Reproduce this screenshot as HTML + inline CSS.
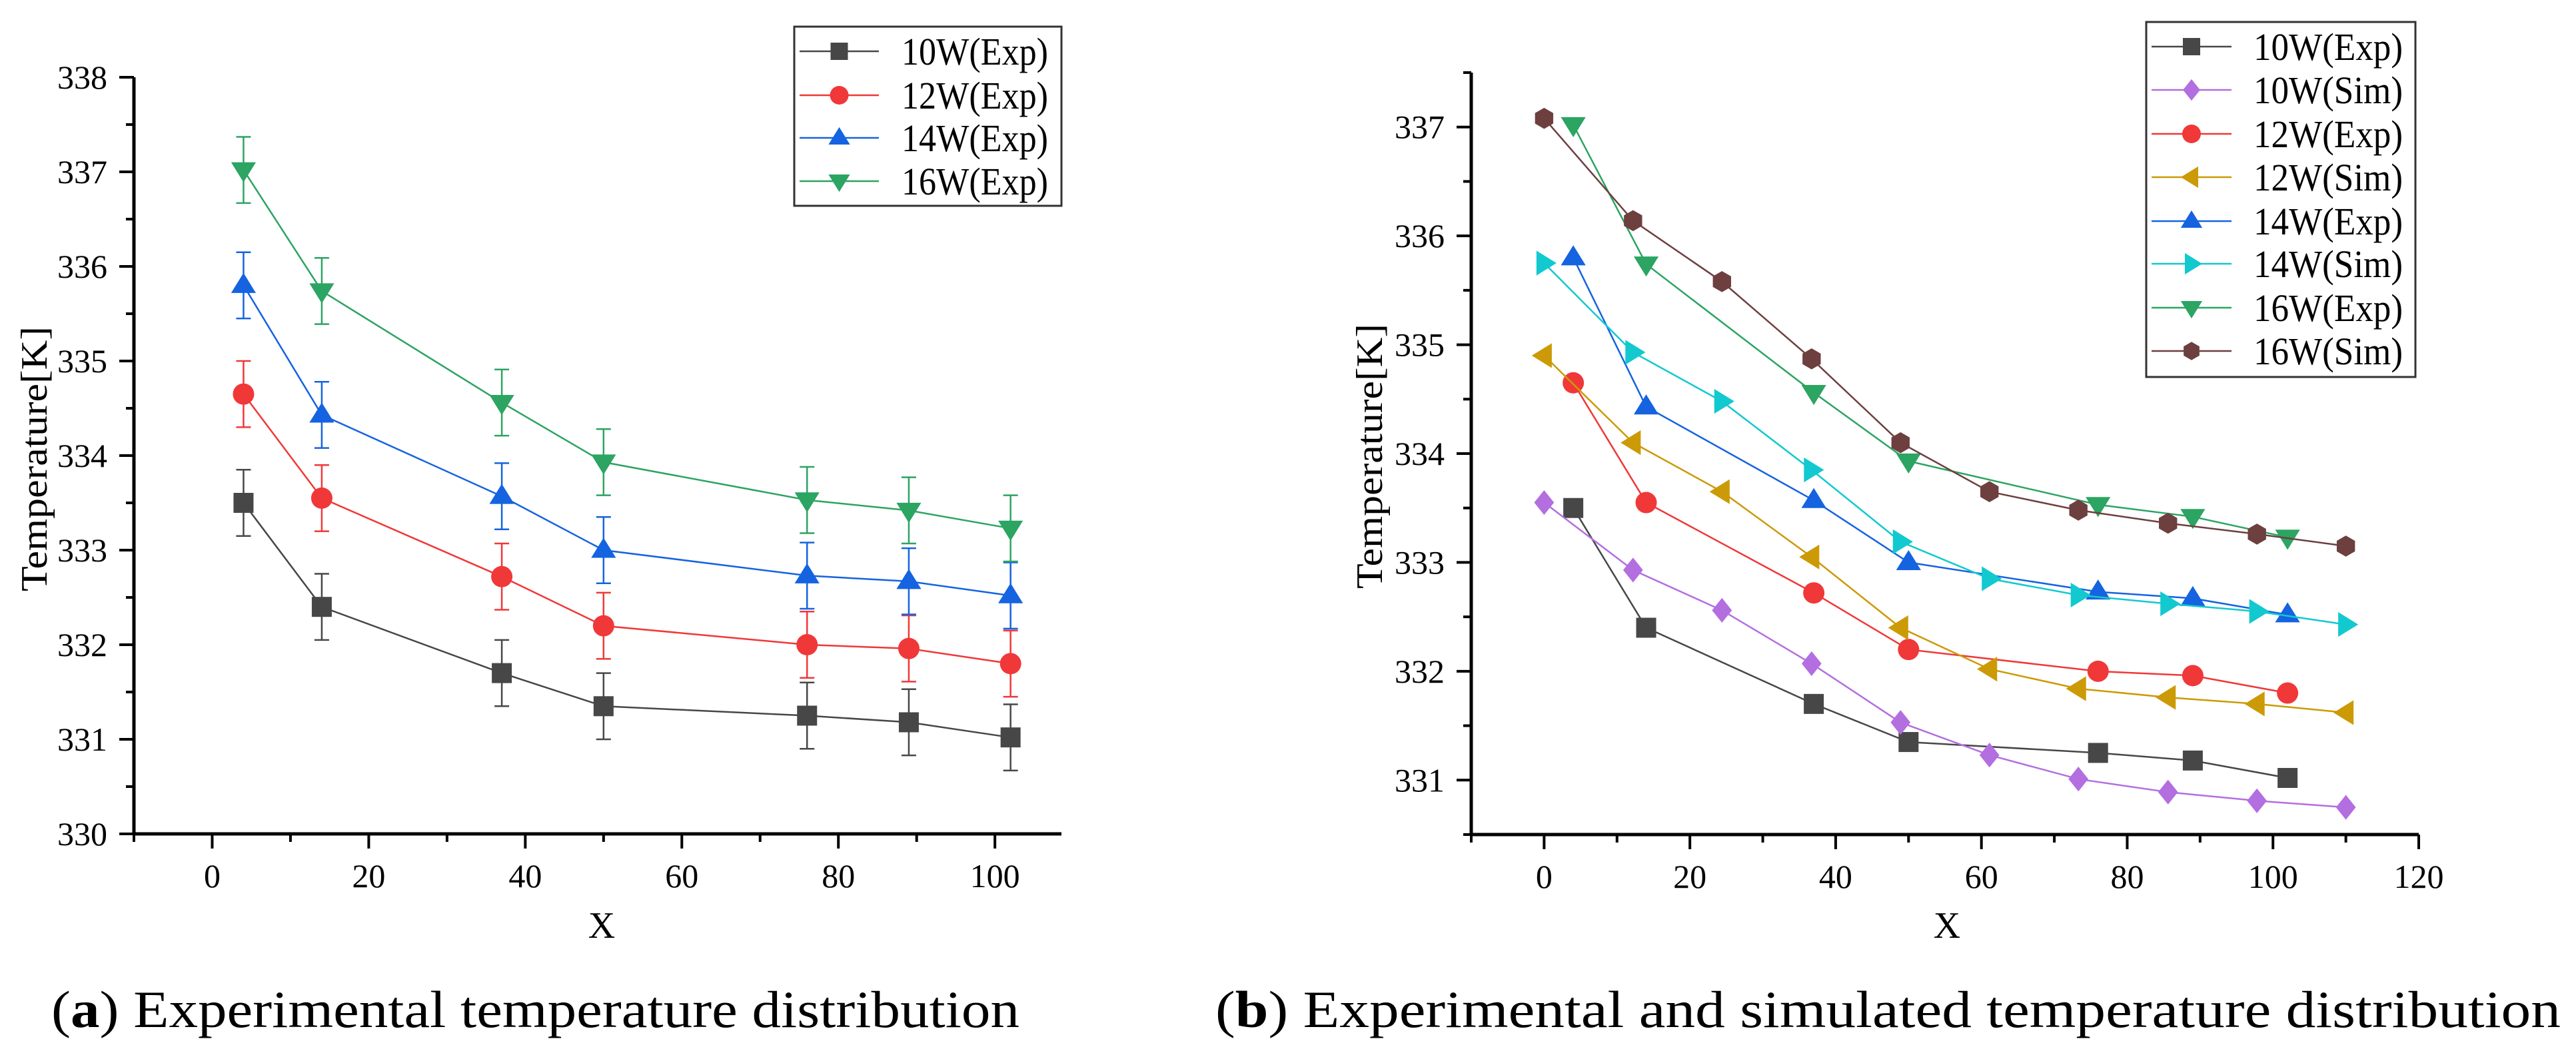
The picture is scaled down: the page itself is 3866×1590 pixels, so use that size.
<!DOCTYPE html>
<html><head><meta charset="utf-8">
<style>
html,body{margin:0;padding:0;background:#fff;}
svg{display:block;}
text{font-family:"Liberation Serif","Noto Serif CJK SC",serif;fill:#000;}
</style></head>
<body>
<svg id="fig" width="3866" height="1590" viewBox="0 0 3866 1590" xmlns="http://www.w3.org/2000/svg">
<g id="chartA"></g>
<g id="chartB"></g>
<text x="77" y="1542" font-size="78" textLength="1453" lengthAdjust="spacingAndGlyphs">(<tspan font-weight="bold">a</tspan>) Experimental temperature distribution</text>
<text x="1824" y="1542" font-size="78" textLength="2019" lengthAdjust="spacingAndGlyphs">(<tspan font-weight="bold">b</tspan>) Experimental and simulated temperature distribution</text>
</svg>
<script>
// ---- data ----
const expX = [4, 14, 37, 50, 76, 89, 102];
const simX = [0, 12.2, 24.4, 36.7, 48.9, 61.1, 73.3, 85.6, 97.8, 110];
const exp10 = [333.5, 332.4, 331.7, 331.35, 331.25, 331.18, 331.02];
const exp12 = [334.65, 333.55, 332.72, 332.2, 332.0, 331.96, 331.8];
const exp14 = [335.8, 334.43, 333.57, 333.0, 332.73, 332.67, 332.52];
const exp16 = [337.02, 335.74, 334.56, 333.93, 333.53, 333.42, 333.23];
const sim10 = [333.55, 332.93, 332.56, 332.07, 331.53, 331.23, 331.01, 330.89, 330.81, 330.75];
const sim12 = [334.9, 334.1, 333.65, 333.05, 332.4, 332.02, 331.84, 331.76, 331.7, 331.62];
const sim14 = [335.75, 334.93, 334.48, 333.85, 333.19, 332.85, 332.7, 332.62, 332.55, 332.43];
const sim16 = [337.08, 336.14, 335.58, 334.87, 334.1, 333.65, 333.48, 333.36, 333.26, 333.15];
const errA = [0.35, 0.35, 0.35, 0.35, 0.35, 0.35, 0.35];
const xTicksA = [0, 20, 40, 60, 80, 100];
const yTicksA = [330, 331, 332, 333, 334, 335, 336, 337, 338];
const xTicksB = [0, 20, 40, 60, 80, 100, 120];
const yTicksB = [331, 332, 333, 334, 335, 336, 337];
const labelsA = ["10W(Exp)", "12W(Exp)", "14W(Exp)", "16W(Exp)"];
const labelsB = ["10W(Exp)", "10W(Sim)", "12W(Exp)", "12W(Sim)", "14W(Exp)", "14W(Sim)", "16W(Exp)", "16W(Sim)"];

const NS = "http://www.w3.org/2000/svg";
const MS = 30;
function mk(parent, tag, attrs, txt) {
  const e = document.createElementNS(NS, tag);
  for (const k in attrs) e.setAttribute(k, attrs[k]);
  if (txt !== undefined) e.textContent = txt;
  parent.appendChild(e);
  return e;
}
const C = {gray:"#474747", purple:"#b36ee0", red:"#f03838", gold:"#cc9a06", blue:"#1563e0", cyan:"#12c9d0", green:"#2ca462", brown:"#6e3f3f"};

function marker(g, type, cx, cy, color, s) {
  let e;
  if (type === "square") e = mk(g, "rect", {x: cx - s/2, y: cy - s/2, width: s, height: s, fill: color});
  else if (type === "circle") e = mk(g, "circle", {cx: cx, cy: cy, r: s/2 + 1, fill: color});
  else {
    let pts;
    const r = s * 0.62;
    if (type === "up") pts = [[cx, cy - r], [cx + r, cy + r*0.62], [cx - r, cy + r*0.62]];
    else if (type === "down") pts = [[cx, cy + r], [cx + r, cy - r*0.62], [cx - r, cy - r*0.62]];
    else if (type === "left") pts = [[cx - r, cy], [cx + r*0.62, cy - r], [cx + r*0.62, cy + r]];
    else if (type === "right") pts = [[cx + r, cy], [cx - r*0.62, cy - r], [cx - r*0.62, cy + r]];
    else if (type === "diamond") pts = [[cx, cy - r], [cx + r*0.8, cy], [cx, cy + r], [cx - r*0.8, cy]];
    else { pts = []; for (let i = 0; i < 6; i++) { const a = Math.PI/6 + i*Math.PI/3; pts.push([cx + r*0.85*Math.cos(a), cy + r*0.85*Math.sin(a)]); } }
    e = mk(g, "polygon", {points: pts.map(p => p.join(",")).join(" "), fill: color});
  }
  
  
  return e;
}

function axes(g, o) {
  const sx = v => o.x0 + (v - o.xmin) / (o.xmax - o.xmin) * (o.x1 - o.x0);
  const sy = v => o.y1 - (v - o.ymin) / (o.ymax - o.ymin) * (o.y1 - o.y0);
  const ax = mk(g, "g", {});
  
  
  const xl = mk(ax, "line", {x1: o.x0 - 2, y1: o.y1, x2: o.x1, y2: o.y1, stroke: "#000", "stroke-width": 5});
  
  
  const yl = mk(ax, "line", {x1: o.x0, y1: o.y0, x2: o.x0, y2: o.y1 + 2, stroke: "#000", "stroke-width": 5});
  
  
  for (let v = o.xmin; v <= o.xmax + 0.001; v += 10) {
    const major = o.xTicks.indexOf(v) >= 0;
    const t = mk(ax, "line", {x1: sx(v), y1: o.y1, x2: sx(v), y2: o.y1 + (major ? 22 : 12), stroke: "#000", "stroke-width": 4});
    
    
  }
  o.xTicks.forEach(v => {
    const t = mk(ax, "text", {x: sx(v), y: o.y1 + 80, "font-size": 50, "text-anchor": "middle"}, String(v));
    
    
  });
  for (let v = o.ymin; v <= o.ymax + 0.001; v += 0.5) {
    const major = Math.abs(v - Math.round(v)) < 0.01;
    const t = mk(ax, "line", {x1: o.x0 - (major ? 22 : 12), y1: sy(v), x2: o.x0, y2: sy(v), stroke: "#000", "stroke-width": 4});
    
    
  }
  o.yTicks.forEach(v => {
    const t = mk(ax, "text", {x: o.x0 - 40, y: sy(v) + 17, "font-size": 50, "text-anchor": "end"}, String(v));
    
    
  });
  const xt = mk(ax, "text", {x: o.xTitleX, y: 1408, "font-size": 56, "text-anchor": "middle"}, "X");
  
  
  const yt = mk(ax, "text", {x: 0, y: 0, "font-size": 56, "text-anchor": "middle", textLength: 398, lengthAdjust: "spacingAndGlyphs", transform: "translate(" + o.yTitleX + "," + o.yTitleY + ") rotate(-90)"}, "Temperature[K]");
  
  
  return {sx, sy};
}

function series(g, name, xs, ys, color, type, sx, sy, err) {
  const sg = mk(g, "g", {});
  
  
  const d = xs.map((x, i) => (i ? "L" : "M") + sx(x).toFixed(1) + "," + sy(ys[i]).toFixed(1)).join(" ");
  const p = mk(sg, "path", {d: d, fill: "none", stroke: color, "stroke-width": 2.5});
  
  
  if (err) {
    xs.forEach((x, i) => {
      const X = sx(x), a = sy(ys[i] + err[i]), b = sy(ys[i] - err[i]);
      const e = mk(sg, "path", {d: "M" + X + "," + a + "V" + b + "M" + (X - 11) + "," + a + "H" + (X + 11) + "M" + (X - 11) + "," + b + "H" + (X + 11), stroke: color, "stroke-width": 2.5, fill: "none"});
      
      
    });
  }
  xs.forEach((x, i) => marker(sg, type, sx(x), sy(ys[i]), color, MS));
}

function legend(g, box, rows, lineX0, lineX1, textX, textLen, items) {
  const lg = mk(g, "g", {});
  
  
  const r = mk(lg, "rect", {x: box[0], y: box[1], width: box[2], height: box[3], fill: "#fff", stroke: "#333", "stroke-width": 3});
  
  
  items.forEach((it, i) => {
    const eg = mk(lg, "g", {});
    
    
    const y = rows[i];
    mk(eg, "line", {x1: lineX0, y1: y, x2: lineX1, y2: y, stroke: it[1], "stroke-width": 2.5});
    marker(eg, it[2], (lineX0 + lineX1) / 2, y, it[1], 26);
    const t = mk(eg, "text", {x: textX, y: y + 20, "font-size": 58, textLength: textLen, lengthAdjust: "spacingAndGlyphs"}, it[0]);
    
    
  });
}

// Chart A
const gA = document.getElementById("chartA");
const A = axes(gA, {x0: 201, x1: 1593, y0: 116, y1: 1252, xmin: -10, xmax: 108.5, ymin: 330, ymax: 338, xTicks: xTicksA, yTicks: yTicksA, xTitleX: 903, yTitleX: 70, yTitleY: 689});
series(gA, "series-10w-exp", expX, exp10, C.gray, "square", A.sx, A.sy, errA);
series(gA, "series-12w-exp", expX, exp12, C.red, "circle", A.sx, A.sy, errA);
series(gA, "series-14w-exp", expX, exp14, C.blue, "up", A.sx, A.sy, errA);
series(gA, "series-16w-exp", expX, exp16, C.green, "down", A.sx, A.sy, errA);
legend(gA, [1192, 40, 401, 269], [77, 143, 207, 272], 1200, 1319, 1353, 220,
  [[labelsA[0], C.gray, "square"], [labelsA[1], C.red, "circle"], [labelsA[2], C.blue, "up"], [labelsA[3], C.green, "down"]]);

// Chart B
const gB = document.getElementById("chartB");
const B = axes(gB, {x0: 2208, x1: 3630, y0: 109, y1: 1253, xmin: -10, xmax: 120, ymin: 330.5, ymax: 337.5, xTicks: xTicksB, yTicks: yTicksB, xTitleX: 2922, yTitleX: 2074, yTitleY: 685});
series(gB, "series-10w-exp", expX, exp10, C.gray, "square", B.sx, B.sy, null);
series(gB, "series-10w-sim", simX, sim10, C.purple, "diamond", B.sx, B.sy, null);
series(gB, "series-12w-exp", expX, exp12, C.red, "circle", B.sx, B.sy, null);
series(gB, "series-12w-sim", simX, sim12, C.gold, "left", B.sx, B.sy, null);
series(gB, "series-14w-exp", expX, exp14, C.blue, "up", B.sx, B.sy, null);
series(gB, "series-14w-sim", simX, sim14, C.cyan, "right", B.sx, B.sy, null);
series(gB, "series-16w-exp", expX, exp16, C.green, "down", B.sx, B.sy, null);
series(gB, "series-16w-sim", simX, sim16, C.brown, "hex", B.sx, B.sy, null);
legend(gB, [3221, 33, 404, 533], [70, 135, 201, 266, 332, 396, 462, 527], 3229, 3349, 3382, 224,
  [[labelsB[0], C.gray, "square"], [labelsB[1], C.purple, "diamond"], [labelsB[2], C.red, "circle"], [labelsB[3], C.gold, "left"],
   [labelsB[4], C.blue, "up"], [labelsB[5], C.cyan, "right"], [labelsB[6], C.green, "down"], [labelsB[7], C.brown, "hex"]]);
</script>
</body></html>
